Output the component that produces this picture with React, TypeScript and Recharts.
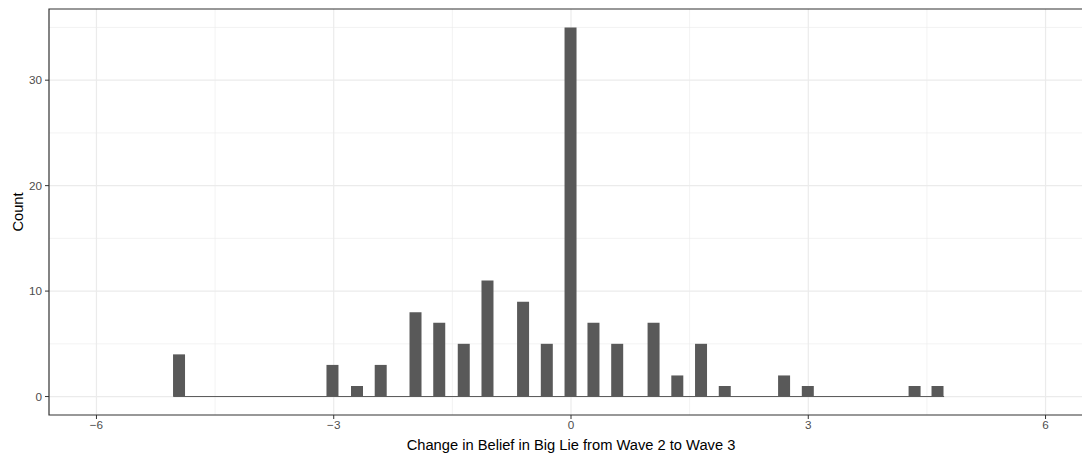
import React from "react";
import {
  ComposedChart,
  Bar,
  XAxis,
  YAxis,
  CartesianGrid,
  ReferenceLine,
  ReferenceArea,
  Label,
} from "recharts";

// Histogram bin centres (change in belief) and counts
const binCenters = [
  -4.95, -3.01, -2.7, -2.4, -1.96, -1.66, -1.35, -1.05, -0.6, -0.3, 0.0, 0.29,
  0.59, 1.05, 1.35, 1.65, 1.95, 2.7, 3.0, 4.35, 4.64,
];
const counts = [4, 3, 1, 3, 8, 7, 5, 11, 9, 5, 35, 7, 5, 7, 2, 5, 1, 2, 1, 1, 1];
const binWidth = 0.155;

const xTicks = [-6, -3, 0, 3, 6];
const xMinor = [-4.5, -1.5, 1.5, 4.5];
const yTicks = [0, 10, 20, 30];
const yMinor = [5, 15, 25, 35];
const xDomain: [number, number] = [-6.6, 6.6];
const yDomain: [number, number] = [-1.75, 36.75];

const data = binCenters.map((x, i) => ({ x, count: counts[i] }));

const FONT = "'Liberation Sans', Arial, Helvetica, sans-serif";
const tickStyle = { fill: "#4D4D4D", fontSize: 11.7, fontFamily: FONT };

export default function App() {
  const first = binCenters[0] - binWidth / 2;
  const last = binCenters[binCenters.length - 1] + binWidth / 2;
  return (
    <div
      style={{
        position: "absolute",
        left: 0,
        top: 0,
        width: 1082,
        height: 455,
        overflow: "hidden",
        background: "#fff",
      }}
    >
      <ComposedChart
        width={1093}
        height={455}
        data={data}
        margin={{ top: 9, right: 0, bottom: 0, left: 0 }}
      >
        <CartesianGrid
          stroke="#EBEBEB"
          strokeWidth={0.6}
          verticalValues={xMinor}
          horizontalValues={yMinor}
        />
        <CartesianGrid
          stroke="#EBEBEB"
          strokeWidth={1.2}
          verticalValues={xTicks}
          horizontalValues={yTicks}
        />
        <XAxis
          dataKey="x"
          type="number"
          domain={xDomain}
          allowDataOverflow
          ticks={xTicks}
          tickFormatter={(v: number) => (v < 0 ? "\u2212" + Math.abs(v) : String(v))}
          height={40}
          axisLine={false}
          tickLine={{ stroke: "#333333", strokeWidth: 1 }}
          tickSize={4}
          tickMargin={2}
          tick={tickStyle}
        >
          <Label
            value="Change in Belief in Big Lie from Wave 2 to Wave 3"
            position="insideBottom"
            offset={5}
            style={{ fill: "#000", fontSize: 14.7, fontFamily: FONT }}
          />
        </XAxis>
        <YAxis
          type="number"
          domain={yDomain}
          allowDataOverflow
          ticks={yTicks}
          width={49}
          axisLine={false}
          tickLine={{ stroke: "#333333", strokeWidth: 1 }}
          tickSize={4}
          tickMargin={3}
          tick={tickStyle}
        >
          <Label
            value="Count"
            angle={-90}
            position="center"
            dx={-7}
            style={{ fill: "#000", fontSize: 14.7, fontFamily: FONT, textAnchor: "middle" }}
          />
        </YAxis>
        <ReferenceLine
          segment={[
            { x: first, y: 0 },
            { x: last, y: 0 },
          ]}
          stroke="#595959"
          strokeWidth={1}
        />
        <Bar dataKey="count" fill="#595959" barSize={12} isAnimationActive={false} />
        <ReferenceArea
          x1={xDomain[0]}
          x2={xDomain[1]}
          y1={yDomain[0]}
          y2={yDomain[1]}
          fill="none"
          fillOpacity={0}
          stroke="#333333"
          strokeWidth={1.2}
        />
      </ComposedChart>
    </div>
  );
}
